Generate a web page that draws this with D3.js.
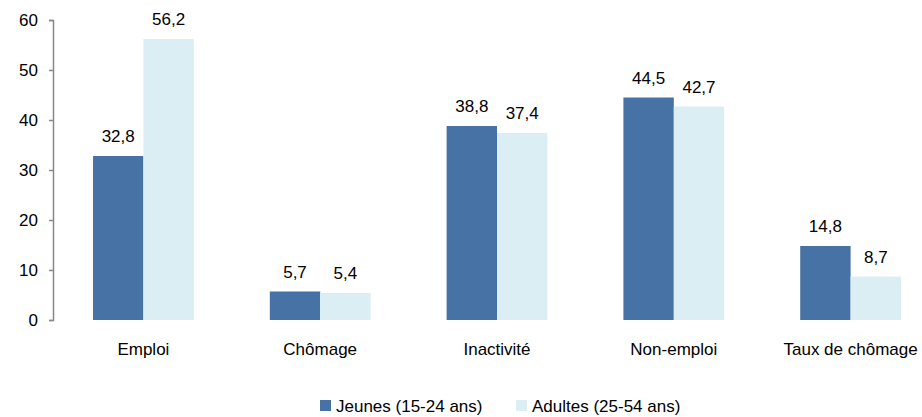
<!DOCTYPE html>
<html lang="fr">
<head>
<meta charset="utf-8">
<script src="https://d3js.org/d3.v7.min.js"></script>
<style>
  body { margin: 0; background: #fff; }
  text { font-family: "Liberation Sans", Arial, sans-serif; fill: #000; }
</style>
</head>
<body>
<svg width="922" height="417"></svg>
<script>
const categories = ["Emploi", "Chômage", "Inactivité", "Non-emploi", "Taux de chômage"];
const seriesNames = ["Jeunes (15-24 ans)", "Adultes (25-54 ans)"];
const jeunes = [32.8, 5.7, 38.8, 44.5, 14.8];
const adultes = [56.2, 5.4, 37.4, 42.7, 8.7];
const yTicks = [0, 10, 20, 30, 40, 50, 60];
const colors = ["#4672a6", "#dbeef4"];

const svg = d3.select("svg");
const fmt = d => d.toFixed(1).replace(".", ",");

let x = d3.scaleBand()
    .domain(categories)
    .range([55, 939])
    .paddingInner(0.43)
    .paddingOuter(0.215);

let x1 = d3.scaleBand()
    .domain(seriesNames)
    .range([0, x.bandwidth()]);

let y = d3.scaleLinear()
    .domain([0, 60])
    .range([320, 20]);

// y axis
let yAxis = svg.append("g")
    .attr("transform", "translate(53,0)")
    .call(d3.axisLeft(y).tickValues(yTicks).tickSize(4).tickPadding(11));
yAxis.select(".domain").attr("stroke", "#898989").attr("stroke-width", 1.5);
yAxis.selectAll(".tick line").attr("stroke", "#898989").attr("stroke-width", 1.5);
yAxis.selectAll("text").style("font-size", "17px").attr("font-family", null);

const rows = categories.map((c, i) => ({ cat: c, vals: [jeunes[i], adultes[i]] }));

let groups = svg.selectAll(".grp")
    .data(rows)
    .join("g")
    .attr("class", "grp")
    .attr("transform", d => "translate(" + x(d.cat) + ",0)");

groups.selectAll("rect")
    .data(d => d.vals.map((v, k) => ({ key: seriesNames[k], v: v, k: k })))
    .join("rect")
    .attr("x", d => x1(d.key))
    .attr("y", d => y(d.v))
    .attr("width", x1.bandwidth())
    .attr("height", d => y(0) - y(d.v))
    .attr("fill", d => colors[d.k]);

groups.selectAll("text.val")
    .data(d => d.vals.map((v, k) => ({ key: seriesNames[k], v: v })))
    .join("text")
    .attr("class", "val")
    .attr("x", d => x1(d.key) + x1.bandwidth() / 2)
    .attr("y", d => y(d.v) - 14)
    .attr("text-anchor", "middle")
    .style("font-size", "17px")
    .text(d => fmt(d.v));

// category labels
svg.selectAll("text.cat")
    .data(categories)
    .join("text")
    .attr("class", "cat")
    .attr("x", d => x(d) + x.bandwidth() / 2)
    .attr("y", 355)
    .attr("text-anchor", "middle")
    .style("font-size", "17px")
    .text(d => d);

// legend
const legendX = [320, 516];
let leg = svg.selectAll(".leg")
    .data(seriesNames)
    .join("g")
    .attr("class", "leg")
    .attr("transform", (d, i) => "translate(" + legendX[i] + ",400)");
leg.append("rect")
    .attr("x", 0).attr("y", 0)
    .attr("width", 11).attr("height", 11)
    .attr("fill", (d, i) => colors[i]);
leg.append("text")
    .attr("x", 16).attr("y", 12)
    .style("font-size", "17px")
    .text(d => d);
</script>
</body>
</html>
